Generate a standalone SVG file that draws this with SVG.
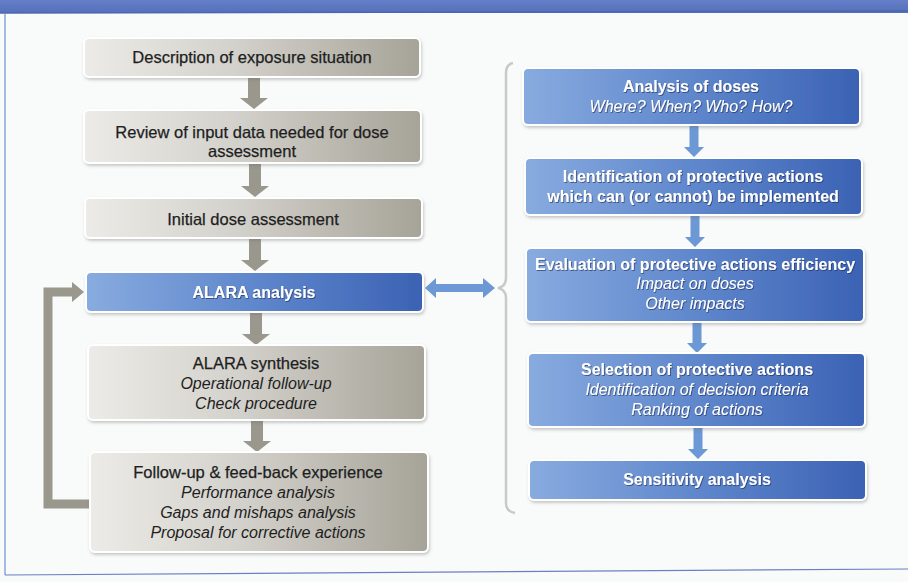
<svg xmlns="http://www.w3.org/2000/svg" width="908" height="582" viewBox="0 0 908 582">
<defs>
<linearGradient id="gGray" x1="0" y1="0" x2="1" y2="0">
<stop offset="0" stop-color="#ecebe7"/>
<stop offset="0.45" stop-color="#d3d1cb"/>
<stop offset="1" stop-color="#a6a398"/>
</linearGradient>
<linearGradient id="gBlue" x1="0" y1="0" x2="1" y2="0">
<stop offset="0" stop-color="#88abdf"/>
<stop offset="0.5" stop-color="#5f87cc"/>
<stop offset="1" stop-color="#3b62b4"/>
</linearGradient>
<linearGradient id="gBand" x1="0" y1="0" x2="0" y2="1">
<stop offset="0" stop-color="#6580c8"/>
<stop offset="1" stop-color="#5470bb"/>
</linearGradient>
<filter id="sh" x="-5%" y="-20%" width="110%" height="150%">
<feDropShadow dx="1" dy="2" stdDeviation="1.6" flood-color="#6b6b6b" flood-opacity="0.35"/>
</filter>
<filter id="tsh" x="-5%" y="-30%" width="110%" height="160%">
<feDropShadow dx="0.8" dy="0.9" stdDeviation="0.5" flood-color="#1c2c55" flood-opacity="0.7"/>
</filter>
<style>
.gbox{fill:url(#gGray);stroke:#ffffff;stroke-width:2;filter:url(#sh)}
.bbox{fill:url(#gBlue);stroke:#ffffff;stroke-width:2;filter:url(#sh)}
.t{font-family:"Liberation Sans",Arial,sans-serif;font-size:16px;text-anchor:middle}
.dk{fill:#1e1e1e}
.h{font-size:16.5px;stroke:#1e1e1e;stroke-width:0.25}
.i{font-style:italic}
.wt{fill:#ffffff}
.b{font-weight:bold}
.ga{fill:#9a978d}
.ba{fill:#6c98d6}
</style>
</defs>
<rect x="0" y="0" width="908" height="582" fill="#f9fbfb"/>
<rect x="0" y="0" width="908" height="13" fill="url(#gBand)"/>
<line x1="0" y1="13" x2="908" y2="11" stroke="#4d66ad" stroke-width="1.5"/>
<line x1="5" y1="14" x2="5" y2="575" stroke="#6a93d2" stroke-width="1.2"/>
<line x1="5" y1="575" x2="908" y2="569" stroke="#6d7fc4" stroke-width="1.2"/>

<g id="connectors">
<path class="ga" d="M248 78H260V98H268L254 109L240 98H248Z"/>
<path class="ga" d="M249 163H261V186H269L255 197L241 186H249Z"/>
<path class="ga" d="M249 238H261V260H269L255 271L241 260H249Z"/>
<path class="ga" d="M250 312H262V334H270L256 345L242 334H250Z"/>
<path class="ga" d="M251 420H263V441H271L257 452L243 441H251Z"/>
<path d="M90 504H48V292H73" fill="none" stroke="#9a978d" stroke-width="9"/>
<path class="ga" d="M72 282L84 292L72 302Z"/>
<path class="ba" d="M689.5 126H698.5V147H704L694 157L684 147H689.5Z"/>
<path class="ba" d="M690.5 215H699.5V237H705L695 247L685 237H690.5Z"/>
<path class="ba" d="M692.5 322H701.5V343H707L697 353L687 343H692.5Z"/>
<path class="ba" d="M693.5 427H702.5V449H708L698 459L688 449H693.5Z"/>
<path class="ba" d="M425 288L436 278V284H483V278L495 288L483 298V292H436V298Z"/>
<path d="M513 63C508 64 506 67 506 73V278C506 284 503 287 498 288C503 289 506 292 506 298V503C506 509 509 512 515 513" fill="none" stroke="#c8c9cb" stroke-width="2.5"/>
</g>

<g id="n1">
<rect class="gbox" x="84" y="38" width="336" height="39" rx="5"/>
<text class="t dk h" x="252" y="63">Description of exposure situation</text>
</g>
<g id="n2">
<rect class="gbox" x="84" y="110" width="337" height="53" rx="5"/>
<text class="t dk h" x="252" y="138">Review of input data needed for dose</text>
<text class="t dk h" x="252" y="157">assessment</text>
</g>
<g id="n3">
<rect class="gbox" x="85" y="198" width="337" height="40" rx="5"/>
<text class="t dk h" x="253" y="225">Initial dose assessment</text>
</g>
<g id="n4">
<rect class="bbox" x="86" y="272" width="337" height="40" rx="5"/>
<text class="t wt b" x="254" y="298" filter="url(#tsh)">ALARA analysis</text>
</g>
<g id="n5">
<rect class="gbox" x="88" y="345" width="337" height="75" rx="5"/>
<text class="t dk h" x="256" y="369">ALARA synthesis</text>
<text class="t dk i" x="256" y="389">Operational follow-up</text>
<text class="t dk i" x="256" y="409">Check procedure</text>
</g>
<g id="n6">
<rect class="gbox" x="90" y="452" width="338" height="100" rx="5"/>
<text class="t dk h" x="258" y="478">Follow-up &amp; feed-back experience</text>
<text class="t dk i" x="258" y="498">Performance analysis</text>
<text class="t dk i" x="258" y="518">Gaps and mishaps analysis</text>
<text class="t dk i" x="258" y="538">Proposal for corrective actions</text>
</g>

<g id="r1">
<rect class="bbox" x="523" y="68" width="337" height="57" rx="5"/>
<g filter="url(#tsh)">
<text class="t wt b" x="691" y="92">Analysis of doses</text>
<text class="t wt i" x="691" y="112">Where? When? Who? How?</text>
</g>
</g>
<g id="r2">
<rect class="bbox" x="525" y="158" width="337" height="57" rx="5"/>
<g filter="url(#tsh)">
<text class="t wt b" x="693" y="182">Identification of protective actions</text>
<text class="t wt b" x="693" y="202">which can (or cannot) be implemented</text>
</g>
</g>
<g id="r3">
<rect class="bbox" x="526" y="248" width="338" height="74" rx="5"/>
<g filter="url(#tsh)">
<text class="t wt b" x="695" y="270">Evaluation of protective actions efficiency</text>
<text class="t wt i" x="695" y="289">Impact on doses</text>
<text class="t wt i" x="695" y="309">Other impacts</text>
</g>
</g>
<g id="r4">
<rect class="bbox" x="528" y="353" width="337" height="74" rx="5"/>
<g filter="url(#tsh)">
<text class="t wt b" x="697" y="375">Selection of protective actions</text>
<text class="t wt i" x="697" y="395">Identification of decision criteria</text>
<text class="t wt i" x="697" y="415">Ranking of actions</text>
</g>
</g>
<g id="r5">
<rect class="bbox" x="529" y="460" width="337" height="40" rx="5"/>
<text class="t wt b" x="697" y="485" filter="url(#tsh)">Sensitivity analysis</text>
</g>
</svg>
